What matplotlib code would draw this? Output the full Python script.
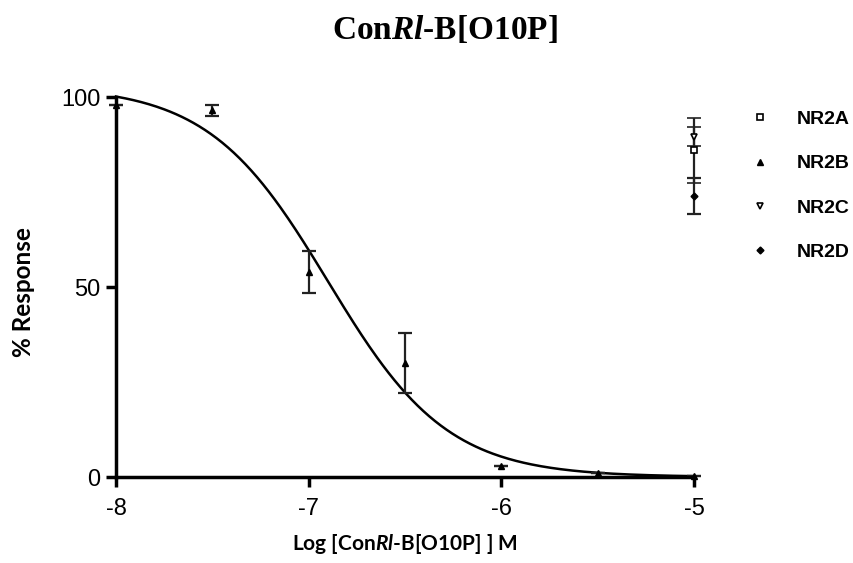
import numpy as np
import matplotlib
matplotlib.use("Agg")
import matplotlib.pyplot as plt
from matplotlib.lines import Line2D

# NR2B concentration-response (log M, % response, error)
nr2b_x = [-8, -7.5, -7, -6.5, -6, -5.5, -5]
nr2b_y = [98, 96.5, 54, 30, 3, 1, 0.3]
nr2b_err = [0, 1.5, 5.5, 8, 0, 0, 0]

# other subunits, only tested at 10 uM
nr2a_x, nr2a_y, nr2a_err = [-5], [86], [8.5]
nr2c_x, nr2c_y, nr2c_err = [-5], [89.5], [2.5]
nr2d_x, nr2d_y, nr2d_err = [-5], [74], [4.8]

# fitted curve for NR2B (top, bottom, logIC50, hill)
fit_top, fit_bottom, fit_logic50, fit_hill = 103, 0, -6.9, 1.4

plt.rcParams['axes.unicode_minus'] = False
plt.rcParams['mathtext.fontset'] = 'custom'
plt.rcParams['mathtext.it'] = 'Liberation Serif:bold:italic'
plt.rcParams['mathtext.sf'] = 'Lato:italic:bold'

fig = plt.figure(figsize=(8.54, 5.63), dpi=100)
ax = fig.add_axes([116/854, 1-477/563, (694-116)/854, (477-78)/563])

xs = np.linspace(-8, -5, 300)
ys = fit_bottom + (fit_top - fit_bottom) / (1 + 10 ** ((xs - fit_logic50) * fit_hill))
ax.plot(xs, ys, color='black', lw=1.8, clip_on=False)

ekw = dict(color='black', ecolor='#222222', elinewidth=1.6, capsize=5, capthick=1.6,
           ls='none', clip_on=False)
ax.errorbar(nr2b_x, nr2b_y, yerr=nr2b_err, marker='^', ms=5, **ekw)
ax.errorbar(nr2a_x, nr2a_y, yerr=nr2a_err, marker='s', ms=4.5, mfc='white', mew=1.2, **ekw)
ax.errorbar(nr2c_x, nr2c_y, yerr=nr2c_err, marker='v', ms=5, mfc='white', mew=1.2, **ekw)
ax.errorbar(nr2d_x, nr2d_y, yerr=nr2d_err, marker='D', ms=3.5, **ekw)

ax.set_xlim(-8, -5)
ax.set_ylim(0, 105)
ax.set_xticks([-8, -7, -6, -5])
ax.set_yticks([0, 50, 100])
ax.spines['top'].set_visible(False)
ax.spines['right'].set_visible(False)
ax.spines['left'].set_bounds(0, 100)
for s in ['left', 'bottom']:
    ax.spines[s].set_linewidth(2.5)
ax.tick_params(width=2.5, length=7, labelsize=17, direction='out', pad=4)
ax.tick_params(axis='x', pad=8)
for lab in ax.get_xticklabels() + ax.get_yticklabels():
    lab.set_family('Liberation Sans')

ax.set_ylabel('% Response', fontsize=17.5, family='Lato', fontweight='bold')
ax.yaxis.set_label_coords(-0.14, 0.463)
ax.set_xlabel(r'Log [Con$\mathsf{Rl}$-B[O10P] ] M', fontsize=15, family='Lato',
              fontweight='bold', labelpad=9)
fig.text(445/854, 1-30/563, r'Con$\mathit{Rl}$-B[O10P]', fontsize=24, fontweight='bold',
         family='Liberation Serif', ha='center', va='center')

# legend: markers only, no error bars
handles = [
    Line2D([], [], ls='none', marker='s', ms=4.5, color='black', mfc='white', mew=1.2),
    Line2D([], [], ls='none', marker='^', ms=5, color='black'),
    Line2D([], [], ls='none', marker='v', ms=5, color='black', mfc='white', mew=1.2),
    Line2D([], [], ls='none', marker='D', ms=3.5, color='black'),
]
ax.legend(handles, ['NR2A', 'NR2B', 'NR2C', 'NR2D'],
          loc='upper left', bbox_to_anchor=(1.067, 0.963), frameon=False,
          handlelength=1.0, labelspacing=1.38, handletextpad=1.4,
          prop={'family': 'Liberation Sans', 'weight': 'bold', 'size': 14})

fig.savefig('out.png', dpi=100)
